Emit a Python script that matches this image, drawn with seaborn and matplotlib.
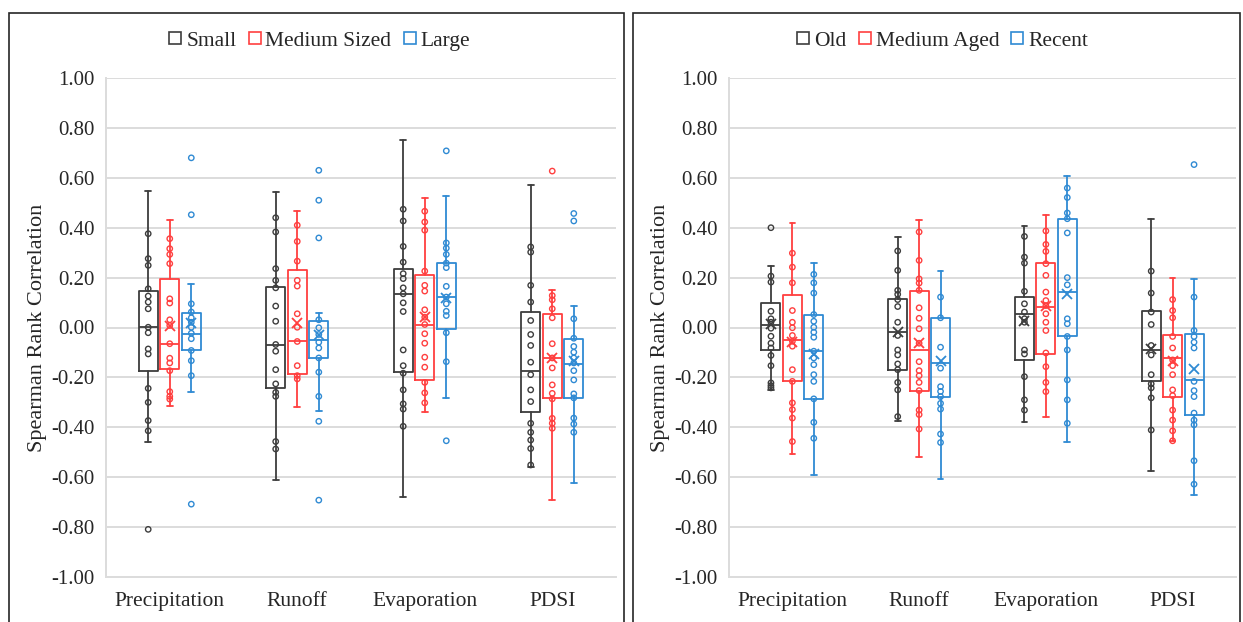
import numpy as np
import pandas as pd
import matplotlib
matplotlib.use("Agg")
import matplotlib.pyplot as plt
from matplotlib.patches import Rectangle
from matplotlib.lines import Line2D
from matplotlib.ticker import FixedLocator, FuncFormatter
import seaborn as sns

# ------------------------------------------------------------------ data
categories = ["Precipitation", "Runoff", "Evaporation", "PDSI"]
size_groups = ["Small", "Medium Sized", "Large"]
age_groups = ["Old", "Medium Aged", "Recent"]
group_colors = ["#3d3d3d", "#ff3f3f", "#2f8ad3"]
y_ticks = [-1.0, -0.8, -0.6, -0.4, -0.2, 0.0, 0.2, 0.4, 0.6, 0.8, 1.0]

# individual correlations (one list per category)
small_pts = [
    [0.376, 0.276, 0.249, 0.155, 0.126, 0.102, 0.075, 0.001, -0.021, -0.086, -0.106, -0.244, -0.300, -0.373, -0.414, -0.809],
    [0.440, 0.383, 0.236, 0.189, 0.159, 0.086, 0.025, -0.068, -0.095, -0.169, -0.226, -0.260, -0.276, -0.457, -0.487],
    [0.474, 0.427, 0.325, 0.262, 0.216, 0.196, 0.159, 0.135, 0.099, 0.064, -0.090, -0.153, -0.183, -0.250, -0.306, -0.327, -0.396],
    [0.323, 0.302, 0.169, 0.102, 0.028, -0.028, -0.072, -0.139, -0.189, -0.250, -0.297, -0.384, -0.420, -0.451, -0.485, -0.551],
]
medium_sized_pts = [
    [0.356, 0.316, 0.293, 0.256, 0.115, 0.098, 0.031, 0.008, -0.065, -0.123, -0.142, -0.173, -0.257, -0.276, -0.287],
    [0.410, 0.345, 0.266, 0.189, 0.166, 0.055, 0.001, -0.056, -0.153, -0.193, -0.206],
    [0.466, 0.423, 0.390, 0.226, 0.169, 0.146, 0.071, 0.041, 0.012, -0.025, -0.063, -0.119, -0.159, -0.220, -0.262, -0.302],
    [0.627, 0.128, 0.111, 0.075, 0.039, -0.065, -0.122, -0.162, -0.230, -0.264, -0.286, -0.364, -0.384, -0.404],
]
large_pts = [
    [0.680, 0.452, 0.095, 0.062, 0.039, 0.021, 0.001, -0.023, -0.045, -0.092, -0.133, -0.193, -0.708],
    [0.630, 0.510, 0.359, 0.031, -0.001, -0.028, -0.059, -0.082, -0.122, -0.179, -0.276, -0.376, -0.692],
    [0.708, 0.339, 0.318, 0.293, 0.258, 0.240, 0.165, 0.122, 0.095, 0.065, 0.048, -0.021, -0.137, -0.454],
    [0.457, 0.427, 0.035, -0.043, -0.076, -0.099, -0.122, -0.142, -0.173, -0.210, -0.266, -0.282, -0.363, -0.387, -0.420],
]
old_pts = [
    [0.400, 0.206, 0.182, 0.065, 0.035, 0.021, -0.003, -0.035, -0.063, -0.082, -0.112, -0.153, -0.222, -0.233, -0.242],
    [0.307, 0.229, 0.149, 0.133, 0.112, 0.084, 0.021, -0.032, -0.090, -0.110, -0.146, -0.169, -0.220, -0.250, -0.357],
    [0.365, 0.282, 0.258, 0.145, 0.095, 0.062, 0.035, 0.021, -0.090, -0.106, -0.197, -0.290, -0.331],
    [0.226, 0.138, 0.062, 0.012, -0.072, -0.110, -0.189, -0.226, -0.242, -0.282, -0.411],
]
medium_aged_pts = [
    [0.298, 0.242, 0.179, 0.068, 0.021, -0.001, -0.032, -0.055, -0.075, -0.169, -0.216, -0.302, -0.329, -0.363, -0.457],
    [0.383, 0.269, 0.195, 0.178, 0.149, 0.079, 0.037, -0.005, -0.063, -0.137, -0.173, -0.193, -0.220, -0.253, -0.331, -0.349, -0.407],
    [0.387, 0.333, 0.305, 0.256, 0.209, 0.142, 0.108, 0.088, 0.055, 0.021, -0.012, -0.102, -0.157, -0.220, -0.257],
    [0.112, 0.068, 0.039, -0.036, -0.082, -0.130, -0.153, -0.189, -0.250, -0.273, -0.331, -0.371, -0.414, -0.454],
]
recent_pts = [
    [0.213, 0.179, 0.138, 0.052, 0.025, 0.001, -0.019, -0.039, -0.095, -0.122, -0.149, -0.189, -0.216, -0.286, -0.380, -0.444],
    [0.122, 0.039, -0.079, -0.163, -0.237, -0.256, -0.277, -0.304, -0.327, -0.427, -0.461],
    [0.559, 0.521, 0.459, 0.436, 0.379, 0.200, 0.171, 0.035, 0.015, -0.036, -0.090, -0.210, -0.290, -0.384],
    [0.653, 0.122, -0.012, -0.036, -0.059, -0.082, -0.216, -0.253, -0.277, -0.343, -0.371, -0.390, -0.534, -0.628],
]

# box statistics per group: rows = group, columns = category
size_q3 = [[0.147, 0.163, 0.236, 0.062], [0.193, 0.229, 0.209, 0.055], [0.060, 0.028, 0.258, -0.045]]
size_med = [[0.001, -0.072, 0.135, -0.173], [-0.068, -0.056, 0.011, -0.122], [-0.025, -0.052, 0.122, -0.146]]
size_q1 = [[-0.175, -0.242, -0.179, -0.340], [-0.165, -0.186, -0.209, -0.282], [-0.092, -0.122, -0.005, -0.282]]
size_hi = [[0.546, 0.542, 0.751, 0.570], [0.430, 0.467, 0.519, 0.151], [0.173, 0.058, 0.527, 0.087]]
size_lo = [[-0.457, -0.610, -0.681, -0.561], [-0.315, -0.317, -0.340, -0.692], [-0.257, -0.333, -0.282, -0.625]]
size_mean = [[np.nan] * 4, [0.005, 0.017, 0.041, -0.122], [0.020, -0.032, 0.120, -0.135]]

age_q3 = [[0.099, 0.115, 0.122, 0.068], [0.131, 0.146, 0.260, -0.029], [0.052, 0.039, 0.434, -0.028]]
age_med = [[0.011, -0.019, 0.055, -0.092], [-0.049, -0.092, 0.082, -0.123], [-0.096, -0.142, 0.142, -0.209]]
age_q1 = [[-0.092, -0.169, -0.130, -0.213], [-0.216, -0.253, -0.106, -0.277], [-0.286, -0.277, -0.035, -0.349]]
age_hi = [[0.245, 0.363, 0.408, 0.436], [0.419, 0.432, 0.449, 0.198], [0.260, 0.225, 0.608, 0.193]]
age_lo = [[-0.250, -0.373, -0.380, -0.574], [-0.507, -0.521, -0.360, -0.454], [-0.590, -0.608, -0.458, -0.672]]
age_mean = [[0.015, -0.019, 0.025, -0.086], [-0.059, -0.063, 0.085, -0.135], [-0.108, -0.133, 0.135, -0.166]]

# ------------------------------------------------------------------ style
W, H = 1243, 622
sns.set_theme(style="white")
plt.rcParams["font.family"] = ["Liberation Serif", "DejaVu Serif"]
plt.rcParams["axes.unicode_minus"] = False

GRID = "#dcdcdc"
DODGE = 0.169
BOX_W = 0.15

fig = plt.figure(figsize=(W / 100, H / 100), dpi=100)
fig.patch.set_facecolor("white")


def long_points(groups, pts_lists):
    rows = []
    for g, pts in zip(groups, pts_lists):
        for ci, vals in enumerate(pts):
            for v in vals:
                rows.append({"group": g, "category": categories[ci], "value": v})
    return pd.DataFrame(rows)


def draw_panel(ax, groups, pts_lists, q1, med, q3, lo, hi, mean):
    cat_idx = np.arange(len(categories))
    offsets = (np.arange(len(groups)) - 1) * DODGE
    for gi, g in enumerate(groups):
        col = group_colors[gi]
        stats = []
        for ci in cat_idx:
            stats.append(dict(med=med[gi][ci], q1=q1[gi][ci], q3=q3[gi][ci],
                              whislo=lo[gi][ci], whishi=hi[gi][ci],
                              mean=mean[gi][ci], fliers=[]))
        line = dict(color=col, linewidth=1.3)
        ax.bxp(stats, positions=cat_idx + offsets[gi], widths=BOX_W,
               capwidths=0.045, showfliers=False,
               showmeans=not np.all(np.isnan(mean[gi])),
               boxprops=line, whiskerprops=line, capprops=line, medianprops=line,
               meanprops=dict(marker="x", markeredgecolor=col, markersize=7.5,
                              markeredgewidth=1.3, linestyle="none"),
               manage_ticks=False, zorder=3)

    df = long_points(groups, pts_lists)
    df["pos"] = df["category"].map({c: i for i, c in enumerate(categories)}) \
        + df["group"].map({g: offsets[i] for i, g in enumerate(groups)})
    for gi, g in enumerate(groups):
        sub = df[df["group"] == g]
        sns.scatterplot(data=sub, x="pos", y="value", ax=ax, color=group_colors[gi],
                        facecolor="none", edgecolor=group_colors[gi],
                        s=15, linewidth=1.0, legend=False, zorder=4)

    ax.set_xlim(-0.5, len(categories) - 0.5)
    ax.set_ylim(-1.0, 1.0)
    ax.xaxis.set_major_locator(FixedLocator(cat_idx))
    ax.set_xticklabels(categories, fontsize=15.5)
    ax.yaxis.set_major_locator(FixedLocator(y_ticks))
    ax.yaxis.set_major_formatter(FuncFormatter(lambda v, p: f"{v:.2f}"))
    ax.tick_params(axis="y", labelsize=15, length=0, pad=8)
    ax.tick_params(axis="x", length=0, pad=11)
    ax.grid(axis="y", color=GRID, linewidth=1.4, zorder=0)
    ax.set_axisbelow(True)
    for side in ("top", "right"):
        ax.spines[side].set_visible(False)
    for side in ("left", "bottom"):
        ax.spines[side].set_color(GRID)
        ax.spines[side].set_linewidth(1.4)
    ax.set_xlabel("")
    ax.set_ylabel("Spearman Rank Correlation", fontsize=16, labelpad=3)

    handles = [Line2D([], [], marker="s", linestyle="none", markersize=9,
                      markerfacecolor="none", markeredgecolor=c, markeredgewidth=1.2)
               for c in group_colors]
    return handles


ax_l = fig.add_axes([106 / W, 1 - 577 / H, 510 / W, 499 / H])
ax_r = fig.add_axes([729 / W, 1 - 577 / H, 507 / W, 499 / H])

h = draw_panel(ax_l, size_groups, [small_pts, medium_sized_pts, large_pts],
               size_q1, size_med, size_q3, size_lo, size_hi, size_mean)
fig.legend(h, size_groups, loc="center", bbox_to_anchor=(319 / W, 1 - 41 / H),
           ncol=3, frameon=False, fontsize=15.5, handlelength=0.7,
           handletextpad=0.15, columnspacing=0.5, borderpad=0)

h = draw_panel(ax_r, age_groups, [old_pts, medium_aged_pts, recent_pts],
               age_q1, age_med, age_q3, age_lo, age_hi, age_mean)
fig.legend(h, age_groups, loc="center", bbox_to_anchor=(942 / W, 1 - 41 / H),
           ncol=3, frameon=False, fontsize=15.5, handlelength=0.7,
           handletextpad=0.15, columnspacing=0.5, borderpad=0)

# chart-area frames around each panel
for x0, x1 in ((9, 624), (633, 1240)):
    fig.add_artist(Rectangle((x0 / W, -0.05), (x1 - x0) / W, 1.05 - 13 / H,
                             transform=fig.transFigure, fill=False,
                             edgecolor="#262626", linewidth=1.2))

fig.savefig("out.png", dpi=100, facecolor="white")
